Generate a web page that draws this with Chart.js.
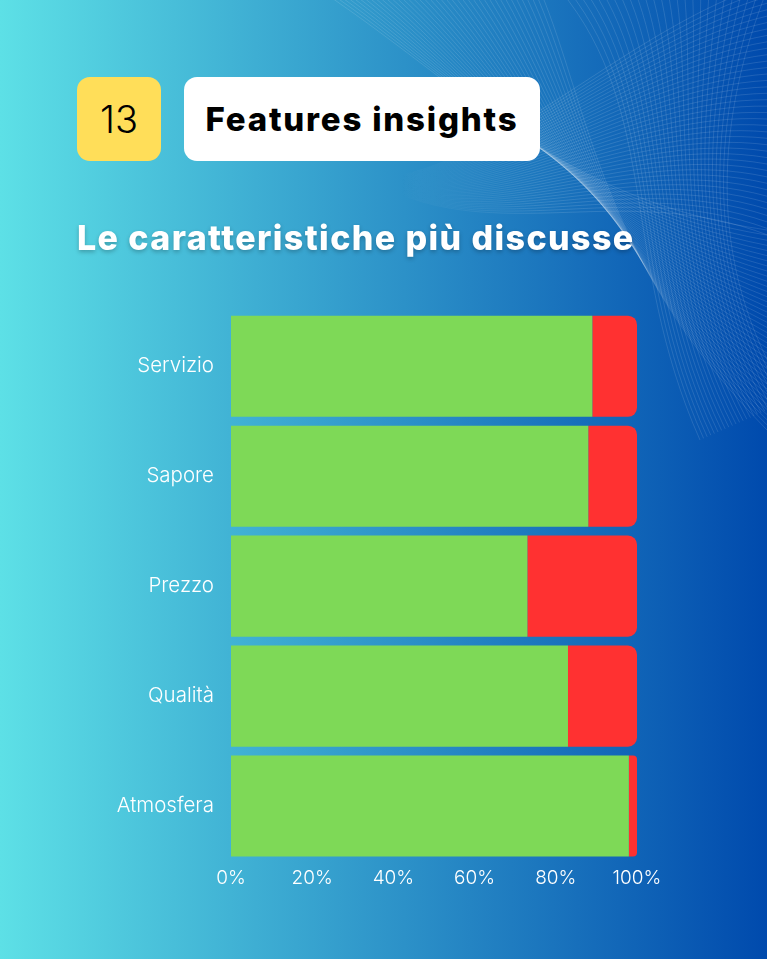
<!DOCTYPE html>
<html lang="it">
<head>
<meta charset="utf-8">
<title>Features insights</title>
<script src="https://cdn.jsdelivr.net/npm/chart.js@4.4.1/dist/chart.umd.min.js"></script>
<style>
  html, body {
    margin: 0;
    padding: 0;
  }
  body {
    width: 767px;
    height: 959px;
    overflow: hidden;
    position: relative;
    background: linear-gradient(90deg, #5de0e6 0%, #004aad 100%);
    font-family: "Inter", "Open Sans", sans-serif;
  }
  #mesh {
    position: absolute;
    left: 0;
    top: 0;
  }
  .numero {
    position: absolute;
    left: 77px;
    top: 77px;
    width: 84px;
    height: 84px;
    border-radius: 13px;
    background: #ffde59;
    color: #000;
    font-size: 38px;
    font-weight: 300;
    line-height: 84px;
    text-align: center;
  }
  .titolo {
    position: absolute;
    left: 184px;
    top: 77px;
    width: 356px;
    height: 84px;
    border-radius: 13px;
    background: #ffffff;
    color: #000;
    font-size: 33px;
    font-weight: 800;
    letter-spacing: 1.8px;
    line-height: 84px;
    text-align: center;
  }
  .sottotitolo {
    position: absolute;
    left: 77px;
    top: 217px;
    color: #ffffff;
    font-size: 34px;
    font-weight: 800;
    letter-spacing: 1.4px;
    white-space: nowrap;
    text-shadow: 0 2px 4px rgba(0, 0, 0, 0.25);
  }
  .grafico {
    position: absolute;
    left: 0;
    top: 282px;
    width: 767px;
    height: 619px;
  }
</style>
</head>
<body>
<canvas id="mesh" width="767" height="959"></canvas>
<div class="numero">13</div>
<div class="titolo">Features insights</div>
<div class="sottotitolo">Le caratteristiche più discusse</div>
<div class="grafico"><canvas id="chartCaratteristiche"></canvas></div>

<script>
// dati (percentuali)
const categorie = ["Servizio", "Sapore", "Prezzo", "Qualità", "Atmosfera"];
const positivi = [89, 88, 73, 83, 98];
const negativi = [11, 12, 27, 17, 2];
const tickPercentuali = [0, 20, 40, 60, 80, 100];

const verde = "#7ed957";
const rosso = "#ff3131";

disegnaRete();
disegnaGrafico();

// linee decorative in alto a destra
function disegnaRete() {
  const ctx = document.getElementById("mesh").getContext("2d");
  ctx.lineWidth = 0.6;
  ctx.strokeStyle = "rgba(255, 255, 255, 0.2)";

  // fascio che scende dall'alto verso destra
  for (let i = 0; i < 40; i++) {
    const s = i / 39;
    ctx.beginPath();
    ctx.moveTo(320 + s * 220, -10);
    ctx.bezierCurveTo(470 + s * 120, 90 + s * 20, 560 + s * 40, 200 + s * 60, 767, 230 + s * 200);
    ctx.stroke();
  }

  // fascio orizzontale che attraversa (sfuma a sinistra)
  const sfumatura = ctx.createLinearGradient(400, 0, 540, 0);
  sfumatura.addColorStop(0, "rgba(255, 255, 255, 0)");
  sfumatura.addColorStop(1, "rgba(255, 255, 255, 0.2)");
  ctx.strokeStyle = sfumatura;
  for (let i = 0; i < 40; i++) {
    const s = i / 39;
    ctx.beginPath();
    ctx.moveTo(400, 175 + s * 20);
    ctx.bezierCurveTo(520, 150 + s * 90, 640, 20 + s * 160, 780, -20 + s * 260);
    ctx.stroke();
  }

  // fascio verticale sul bordo destro
  ctx.strokeStyle = "rgba(255, 255, 255, 0.2)";
  for (let i = 0; i < 26; i++) {
    const s = i / 25;
    ctx.beginPath();
    ctx.moveTo(560 + s * 207, -10);
    ctx.bezierCurveTo(660 + s * 60, 110, 620 + s * 80, 260, 700 + s * 90, 440 - s * 40);
    ctx.stroke();
  }
}

function disegnaGrafico() {
  const canvas = document.getElementById("chartCaratteristiche");
  if (!canvas) return;

  Chart.defaults.font.family = "Inter, 'Open Sans', sans-serif";

  new Chart(canvas, {
    type: "bar",
    data: {
      labels: categorie,
      datasets: [
        {
          label: "Positivi",
          data: positivi,
          backgroundColor: verde,
          borderWidth: 0,
          borderSkipped: false,
          categoryPercentage: 1,
          barPercentage: 0.92,
        },
        {
          label: "Negativi",
          data: negativi,
          backgroundColor: rosso,
          borderWidth: 0,
          borderRadius: { topLeft: 0, bottomLeft: 0, topRight: 9, bottomRight: 9 },
          borderSkipped: false,
          categoryPercentage: 1,
          barPercentage: 0.92,
        },
      ],
    },
    options: {
      indexAxis: "y",
      responsive: true,
      maintainAspectRatio: false,
      animation: false,
      layout: {
        padding: { top: 12, right: 130, bottom: 0, left: 0 },
      },
      plugins: {
        legend: { display: false },
        tooltip: { enabled: false },
      },
      scales: {
        x: {
          stacked: true,
          min: 0,
          max: 100,
          afterFit: function (scale) {
            scale.height = 40;
          },
          afterBuildTicks: function (scale) {
            scale.ticks = tickPercentuali.map((v) => ({ value: v }));
          },
          grid: { display: false, drawTicks: false },
          border: { display: false },
          ticks: {
            color: "#ffffff",
            padding: 6,
            font: { size: 19, weight: "300" },
            callback: function (value) {
              return value + "%";
            },
          },
        },
        y: {
          stacked: true,
          afterFit: function (scale) {
            scale.width = 231;
          },
          grid: { display: false, drawTicks: false },
          border: { display: false },
          ticks: {
            color: "#ffffff",
            padding: 17,
            font: { size: 20.5, weight: "300" },
          },
        },
      },
    },
  });
}
</script>
</body>
</html>
